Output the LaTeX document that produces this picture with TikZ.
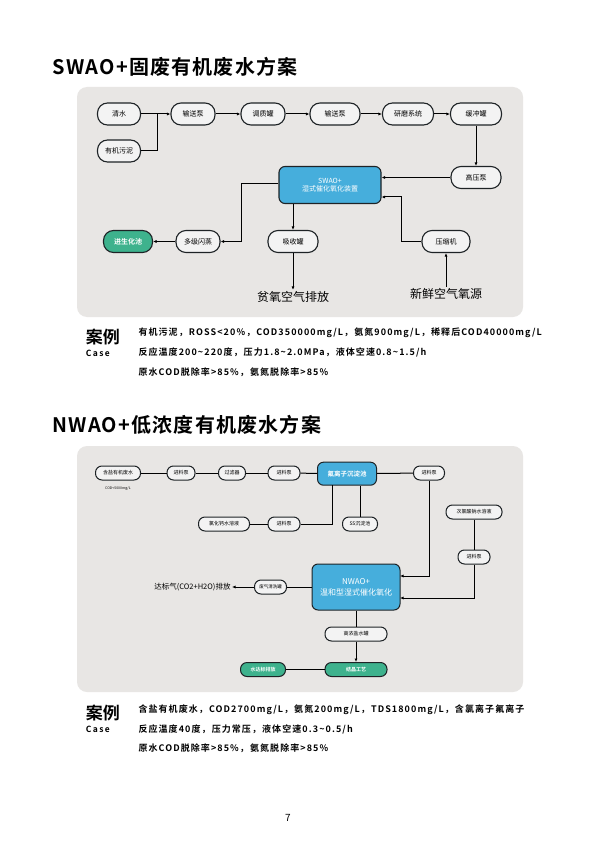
\documentclass[tikz,border=0pt]{standalone}
\usepackage{fontspec}
\setmainfont{Noto Sans CJK SC}[BoldFont=Noto Sans CJK SC Bold]
\usetikzlibrary{arrows.meta}
\definecolor{panelgray}{HTML}{E8E6E4}
\definecolor{boxfill}{HTML}{F3F3F3}
\definecolor{linecol}{HTML}{1E2326}
\definecolor{bluebox}{HTML}{46AEDC}
\definecolor{greenbox}{HTML}{3EB28D}
\begin{document}
\begin{tikzpicture}[x=1pt,y=-1pt,
  line width=1pt,
  box/.style={draw=linecol,line width=1.1pt,fill=boxfill,rounded corners=10pt,
    minimum height=22pt,inner sep=0pt,font=\fontsize{7}{8}\selectfont},
  sbox/.style={draw=linecol,line width=1pt,fill=boxfill,rounded corners=6.5pt,
    minimum height=14pt,inner sep=0pt,font=\fontsize{5}{6}\selectfont},
  bluenode/.style={fill=bluebox,text=white,rounded corners=6pt,align=center},
  greennode/.style={fill=greenbox,text=white,font=\fontsize{7}{8}\selectfont\bfseries},
  arr/.style={-{Latex[length=3.5pt,width=3pt]}},
  titletext/.style={anchor=west,inner sep=0pt,
    font=\fontsize{20}{21}\selectfont\bfseries\addfontfeature{LetterSpace=6}},
  casehead/.style={anchor=west,font=\fontsize{17}{18}\selectfont\bfseries},
  casetext/.style={anchor=west,inner sep=0pt,
    font=\fontsize{9}{10}\selectfont\bfseries\addfontfeature{LetterSpace=12}}]
\useasboundingbox (0,0) rectangle (595,842);
\fill[white] (0,0) rectangle (595,842);

% ---------- SWAO ----------
\node[titletext] (t1) at (52,67) {SWAO+固废有机废水方案};
\fill[panelgray,rounded corners=10pt] (77,87) rectangle (523,317);

\node[box,minimum width=43pt] (qs) at (119,114) {清水};
\node[box,minimum width=43pt] (wn) at (119,151) {有机污泥};
\node[box,minimum width=44pt] (p1) at (193,114) {输送泵};
\node[box,minimum width=44pt] (tz) at (263,114) {调质罐};
\node[box,minimum width=50pt] (p2) at (335,114) {输送泵};
\node[box,minimum width=51pt] (ym) at (408,114) {研磨系统};
\node[box,minimum width=51pt] (hc) at (476,114) {缓冲罐};
\node[box,minimum width=50pt] (gy) at (476,177.5) {高压泵};
\node[box,bluenode,minimum width=102pt,minimum height=37pt] (swao) at (330,185) {SWAO+\\湿式催化氧化装置};
\node[box,greennode,minimum width=49pt] (sh) at (128,241.5) {进生化池};
\node[box,minimum width=44pt] (dj) at (198,241.5) {多级闪蒸};
\node[box,minimum width=50pt] (xs) at (293,241.5) {吸收罐};
\node[box,minimum width=48pt] (ys) at (446,241.5) {压缩机};
\node[font=\fontsize{12}{13}\selectfont,inner sep=1pt] (pk) at (293,297) {贫氧空气排放};
\node[font=\fontsize{12}{13}\selectfont,inner sep=1pt] (xx) at (446,294) {新鲜空气氧源};

\coordinate (j1) at (157,114);
\coordinate (c1) at (241,184);
\coordinate (c2) at (401,197);
\draw (qs) -- (j1);
\draw (wn.east) -| (j1);
\draw[arr] (j1) -- (p1.west);
\draw[arr] (p1) -- (tz);
\draw[arr] (tz) -- (p2);
\draw[arr] (p2) -- (ym);
\draw[arr] (ym) -- (hc);
\draw[arr] (hc) -- (gy);
\draw[arr] (gy.west) -- (gy.west -| swao.east);
\draw[arr] (swao.west |- c1) -- (c1) |- (dj.east);
\draw[arr] (dj) -- (sh);
\draw[arr] (swao.south -| xs.north) -- (xs.north);
\draw[arr] (xs) -- (pk);
\draw[arr] (ys.west) -| (c2) -- (c2 -| swao.east);
\draw[arr] (xx) -- (ys);

\node[casehead] (ch1) at (82,337) {案例};
\node[anchor=west,font=\fontsize{8.5}{9}\selectfont\bfseries] (cs1) at (82,353) {C\,a\,s\,e};
\node[casetext] (l11) at (138,333) {有机污泥，ROSS<20\%，COD350000mg/L，氨氮900mg/L，稀释后COD40000mg/L};
\node[casetext] (l12) at (138,352) {反应温度200\textasciitilde220度，压力1.8\textasciitilde2.0MPa，液体空速0.8\textasciitilde1.5/h};
\node[casetext] (l13) at (138,372) {原水COD脱除率>85\%，氨氮脱除率>85\%};

% ---------- NWAO ----------
\node[titletext] (t2) at (52,425) {NWAO+低浓度有机废水方案};
\fill[panelgray,rounded corners=10pt] (77,446) rectangle (523,692);

\node[sbox,minimum width=45pt] (hs) at (118,473) {含盐有机废水};
\node[font=\fontsize{3.5}{4}\selectfont,inner sep=0pt] (cod) at (118,488.5) {COD<5000mg/L};
\node[sbox,minimum width=28pt] (jl1) at (181,473) {进料泵};
\node[sbox,minimum width=27pt] (gl) at (232,473) {过滤器};
\node[sbox,minimum width=32pt] (jl2) at (284,473) {进料泵};
\node[sbox,bluenode,minimum width=59pt,minimum height=23pt,font=\fontsize{6.5}{7}\selectfont\bfseries] (fl) at (347,473.7) {氟离子沉淀池};
\node[sbox,minimum width=31pt] (jl3) at (429,473) {进料泵};
\node[sbox,minimum width=51pt] (lh) at (224,524) {氯化钙水溶液};
\node[sbox,minimum width=32pt] (jl5) at (284,524) {进料泵};
\node[sbox,minimum width=35pt] (ss) at (360,524) {SS沉淀池};
\node[sbox,minimum width=56pt] (cl) at (474,512) {次氯酸钠水溶液};
\node[sbox,minimum width=32pt] (jl4) at (474,557) {进料泵};
\node[sbox,bluenode,minimum width=88pt,minimum height=46pt,font=\fontsize{8}{11}\selectfont] (nwao) at (356,587) {NWAO+\\温和型湿式催化氧化};
\node[sbox,minimum width=32pt,font=\fontsize{4.5}{5}\selectfont] (fq) at (270.5,587) {废气清洗罐};
\node[anchor=east,font=\fontsize{7.5}{8}\selectfont,inner sep=1pt] (db) at (232,587) {达标气(CO2+H2O)排放};
\node[sbox,minimum width=62pt] (gn) at (356,634) {高浓盐水罐};
\node[sbox,greennode,minimum width=62pt,font=\fontsize{5}{6}\selectfont\bfseries] (jj) at (356,669.5) {结晶工艺};
\node[sbox,greennode,minimum width=45pt,font=\fontsize{5}{6}\selectfont\bfseries] (sd) at (263,669.5) {水达标排放};

\coordinate (k1) at (400,576);
\coordinate (k2) at (400,598);
\coordinate (k3) at (332,485);
\draw (hs) -- (jl1);
\draw (jl1) -- (gl);
\draw (gl) -- (jl2);
\draw (jl2) -- (fl);
\draw (fl) -- (jl3);
\draw[arr] (jl3.south) |- (k1);
\draw (cl) -- (jl4);
\draw[arr] (jl4.south) |- (k2);
\draw (fl.south -| ss.north) -- (ss.north);
\draw (lh) -- (jl5);
\draw (jl5.east) -| (k3);
\draw (nwao.west) -- (fq.east);
\draw[arr] (fq.west) -- (db.east);
\draw (nwao.south) -- (gn.north);
\draw[arr] (gn.south) -- (jj.north);
\draw (jj) -- (sd);

\node[casehead] (ch2) at (82,713) {案例};
\node[anchor=west,font=\fontsize{8.5}{9}\selectfont\bfseries] (cs2) at (82,729) {C\,a\,s\,e};
\node[casetext] (l21) at (138,710) {含盐有机废水，COD2700mg/L，氨氮200mg/L，TDS1800mg/L，含氯离子氟离子};
\node[casetext] (l22) at (138,729) {反应温度40度，压力常压，液体空速0.3\textasciitilde0.5/h};
\node[casetext] (l23) at (138,748) {原水COD脱除率>85\%，氨氮脱除率>85\%};

\node[font=\fontsize{10}{11}\selectfont] (pg) at (288,818) {7};
\end{tikzpicture}
\end{document}
